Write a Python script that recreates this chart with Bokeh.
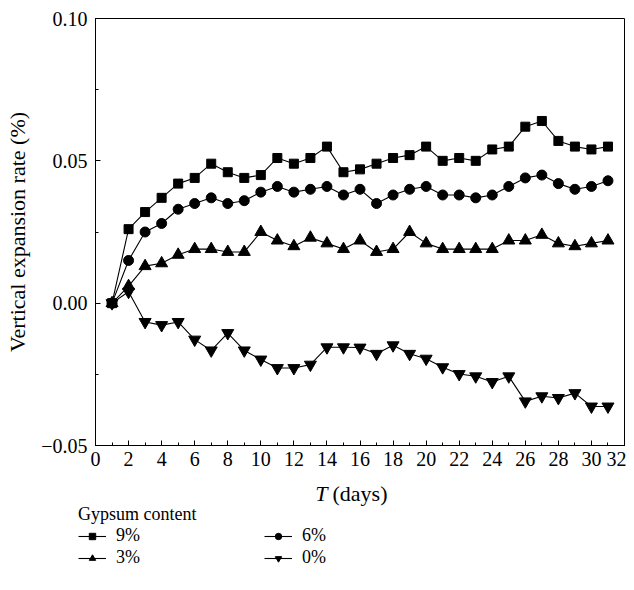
from bokeh.plotting import figure
from bokeh.models import (Range1d, FixedTicker, CustomJSTickFormatter, Legend, LegendItem, Label)
from bokeh.embed import file_html
from bokeh.resources import INLINE

days = list(range(1, 32))
g9 = [0, 0.026, 0.032, 0.037, 0.042, 0.044, 0.049, 0.046, 0.044, 0.045, 0.051, 0.049, 0.051, 0.055, 0.046,
      0.047, 0.049, 0.051, 0.052, 0.055, 0.050, 0.051, 0.050, 0.054, 0.055, 0.062, 0.064, 0.057, 0.055, 0.054, 0.055]
g6 = [0, 0.015, 0.025, 0.028, 0.033, 0.035, 0.037, 0.035, 0.036, 0.039, 0.041, 0.039, 0.040, 0.041, 0.038,
      0.040, 0.035, 0.038, 0.040, 0.041, 0.038, 0.038, 0.037, 0.038, 0.041, 0.044, 0.045, 0.042, 0.040, 0.041, 0.043]
g3 = [0, 0.006, 0.013, 0.014, 0.017, 0.019, 0.019, 0.018, 0.018, 0.025, 0.022, 0.020, 0.023, 0.021, 0.019,
      0.022, 0.018, 0.019, 0.025, 0.021, 0.019, 0.019, 0.019, 0.019, 0.022, 0.022, 0.024, 0.021, 0.020, 0.021, 0.022]
g0 = [0, 0.004, -0.0066, -0.0077, -0.0066, -0.0128, -0.0166, -0.0105, -0.0166, -0.0198, -0.0228, -0.0228, -0.0216,
      -0.0155, -0.0155, -0.0156, -0.0178, -0.0148, -0.0178, -0.0195, -0.0225, -0.0249, -0.0257, -0.0277, -0.0257,
      -0.0345, -0.0327, -0.0333, -0.0316, -0.0363, -0.0363]
series_labels = ["9%", "6%", "3%", "0%"]
x_ticks = list(range(0, 33, 2))
y_ticks = [-0.05, 0.0, 0.05, 0.10]

FONT = "Liberation Serif"
TICK_FS = "20px"
TITLE_FS = "22px"
LEG_FS = "18px"
NAN = float("nan")

# ---- main chart ----
p = figure(width=626, height=477, output_backend="svg", toolbar_location=None,
           x_range=Range1d(0, 32), y_range=Range1d(-0.05, 0.10),
           min_border_left=95, min_border_right=2, min_border_top=18, min_border_bottom=32)
p.xgrid.visible = False
p.ygrid.visible = False
p.outline_line_color = "black"
p.outline_line_alpha = 1
p.outline_line_width = 1
p.background_fill_color = "white"
p.border_fill_color = "white"

for ax in (p.xaxis[0], p.yaxis[0]):
    ax.axis_line_color = "black"
    ax.major_tick_line_color = "black"
    ax.minor_tick_line_color = "black"
    ax.major_tick_in = 5
    ax.major_tick_out = 0
    ax.minor_tick_in = 3
    ax.minor_tick_out = 0
    ax.major_label_text_font = FONT
    ax.major_label_text_font_size = TICK_FS
    ax.major_label_text_color = "black"
    ax.axis_label_text_font = FONT
    ax.axis_label_text_font_size = TITLE_FS
    ax.axis_label_text_font_style = "normal"
    ax.axis_label_text_color = "black"

p.xaxis[0].major_label_standoff = 6
p.yaxis[0].major_label_standoff = 8
p.xaxis[0].ticker = FixedTicker(ticks=x_ticks, minor_ticks=list(range(0, 33)))
p.yaxis[0].ticker = FixedTicker(ticks=y_ticks, minor_ticks=[-0.025, 0.025, 0.075])
p.yaxis[0].formatter = CustomJSTickFormatter(code="return tick.toFixed(2).replace('-', '\u2212');")
p.yaxis[0].axis_label = "Vertical expansion rate (%)"
p.yaxis[0].axis_label_standoff = 8

specs = [(g9, "square", 9), (g6, "circle", 10), (g3, "triangle", 12), (g0, "inverted_triangle", 12)]
for vals, marker, size in specs:
    p.line(days, vals, line_color="black", line_width=1.1)
    p.scatter(days, vals, marker=marker, size=size, fill_color="black", line_color="black")

# ---- strip below: x-axis title and legend (pixel coordinates) ----
p2 = figure(width=626, height=113, output_backend="svg", toolbar_location=None,
            x_range=Range1d(0, 626), y_range=Range1d(113, 0),
            x_axis_type=None, y_axis_type=None,
            min_border_left=0, min_border_right=0, min_border_top=0, min_border_bottom=0)
p2.xgrid.visible = False
p2.ygrid.visible = False
p2.outline_line_color = None
p2.background_fill_color = "white"
p2.border_fill_color = "white"

p2.add_layout(Label(x=327, y=16, text="T", text_align="right", text_baseline="middle",
                    text_font=FONT, text_font_size=TITLE_FS, text_font_style="italic", text_color="black"))
p2.add_layout(Label(x=332, y=16, text="(days)", text_align="left", text_baseline="middle",
                    text_font=FONT, text_font_size=TITLE_FS, text_color="black"))

legend_renderers = []
for vals, marker, size in specs:
    ln = p2.line([NAN], [NAN], line_color="black", line_width=1.1)
    sc = p2.scatter([NAN], [NAN], marker=marker, size=size - 2, fill_color="black", line_color="black")
    legend_renderers.append([ln, sc])

items = [LegendItem(label=series_labels[i], renderers=legend_renderers[i]) for i in (0, 2, 1, 3)]
legend = Legend(items=items, location=(78, 22), orientation="vertical", nrows=2,
                title="Gypsum content", title_text_font=FONT, title_text_font_size=LEG_FS,
                title_text_font_style="normal", title_text_color="black", title_standoff=0,
                label_text_font=FONT, label_text_font_size=LEG_FS, label_text_color="black",
                glyph_width=28, glyph_height=16, label_standoff=10, label_width=147, label_height=18,
                spacing=1, padding=0, margin=0, border_line_color=None, background_fill_alpha=0)
p2.add_layout(legend, "center")

open("out.html", "w").write(file_html([p, p2], INLINE))
